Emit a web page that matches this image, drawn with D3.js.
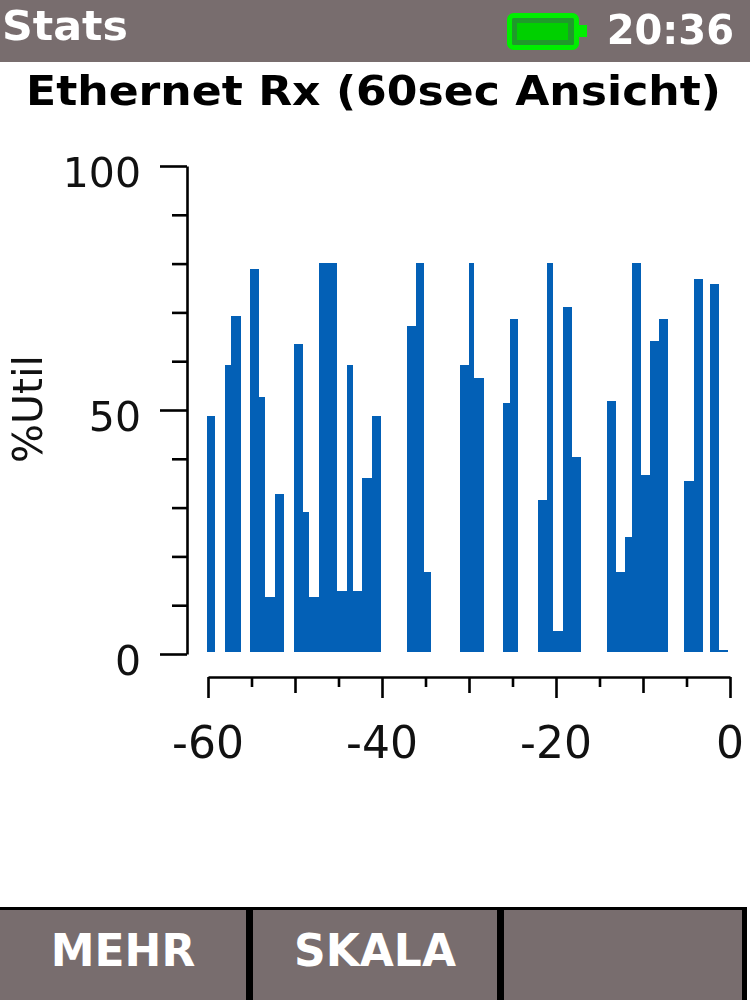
<!DOCTYPE html>
<html><head><meta charset="utf-8">
<script src="https://d3js.org/d3.v7.min.js"></script>
<style>html,body{margin:0;padding:0;background:#fff}svg{display:block;filter:blur(0.5px)}text{font-family:"DejaVu Sans"}</style>
</head><body><div id="c"></div>
<script>
const binStart=[-60.15,-58.05,-57.3,-55.2,-54.15,-53.4,-52.3,-50.1,-49.1,-48.4,-47.25,-46.2,-45.2,-44.05,-43.3,-42.25,-41.2,-37.15,-36.1,-35.15,-31.05,-30,-29.4,-26.05,-25.3,-22.1,-21,-20.4,-19.25,-18.2,-14.15,-13.1,-12.05,-11.3,-10.25,-9.2,-8.15,-5.25,-4.15,-2.35,-1.3];
const binEnd=[-59.2,-57.3,-56.25,-54.15,-53.4,-52.3,-51.25,-49.1,-48.4,-47.25,-46.2,-45.2,-44.05,-43.3,-42.25,-41.2,-40.15,-36.1,-35.15,-34.4,-30,-29.4,-28.3,-25.3,-24.35,-21,-20.4,-19.25,-18.2,-17.1,-13.1,-12.05,-11.3,-10.25,-9.2,-8.15,-7.1,-4.15,-3.05,-1.3,-0.25];
const util=[48.8,59.2,69.3,78.9,52.7,11.7,32.8,63.5,29,11.7,80.2,80.2,13,59.2,13,36,48.8,67.3,80.2,16.9,59.2,80.2,56.5,51.4,68.6,31.6,80.2,4.7,71.2,40.4,51.9,16.9,24,80.2,36.7,64.2,68.6,35.4,76.8,75.8,0.8];
const xTicks=[-60,-55,-50,-45,-40,-35,-30,-25,-20,-15,-10,-5,0];
const xLabels=[-60,-40,-20,0];
const yTicks=[0,10,20,30,40,50,60,70,80,90,100];
const yLabels=[0,50,100];
const title="Ethernet Rx (60sec Ansicht)";
const softkeys=["MEHR","SKALA",""];

const svg=d3.select("#c").append("svg").attr("width",750).attr("height",1000);
const x=d3.scaleLinear().domain([-60,0]).range([208,730]);
const y=d3.scaleLinear().domain([0,100]).range([654,166]);
const grey="#786d6e";
svg.append("rect").attr("width",750).attr("height",62).attr("fill",grey);
svg.append("text").attr("x",2).attr("y",40).attr("font-size",41).attr("font-weight","bold").attr("textLength",126).attr("lengthAdjust","spacingAndGlyphs").attr("fill","#fff").text("Stats");
svg.append("text").attr("x",734).attr("y",44).attr("text-anchor","end").attr("font-size",40).attr("font-weight","bold").attr("fill","#fff").text("20:36");
svg.append("rect").attr("x",509.5).attr("y",15.5).attr("width",67).attr("height",32).attr("rx",4).attr("fill","#1f9a2a").attr("stroke","#00ee00").attr("stroke-width",5);
svg.append("rect").attr("x",517).attr("y",23).attr("width",51).attr("height",17).attr("fill","#00d000");
svg.append("rect").attr("x",578).attr("y",25).attr("width",9).attr("height",12).attr("fill","#00ee00");
svg.append("text").attr("x",26).attr("y",105).attr("font-size",41).attr("font-weight","bold").attr("textLength",695).attr("lengthAdjust","spacingAndGlyphs").attr("fill","#000").text(title);

svg.append("g").attr("shape-rendering","crispEdges").selectAll("rect").data(util).join("rect")
 .attr("x",(d,i)=>x(binStart[i])).attr("width",(d,i)=>x(binEnd[i])-x(binStart[i]))
 .attr("y",d=>y(d)).attr("height",d=>y(0)-2-y(d)).attr("fill","#0360b6");

const yA=d3.axisLeft(y).tickValues(yTicks).tickSize(15).tickSizeOuter(0).tickFormat("");
const gy=svg.append("g").attr("transform","translate(187,0)").call(yA);
const xA=d3.axisBottom(x).tickValues(xTicks).tickSize(10).tickSizeOuter(0).tickFormat("");
const gx=svg.append("g").attr("transform","translate(0,677)").call(xA);
[gx,gy].forEach(g=>{g.selectAll("path,line").attr("stroke","#000").attr("stroke-width",2.6);});
gy.selectAll("line").filter(d=>d%50===0).attr("x2",-27);
gx.selectAll("line").filter(d=>d%10===0).attr("y2",16);
gx.selectAll("line").filter(d=>d%20===0).attr("y2",21);
svg.append("g").selectAll("text").data(yLabels).join("text").attr("x",141).attr("y",d=>y(d)+20.5).attr("text-anchor","end").attr("font-size",41).attr("fill","#111").text(d=>d);
svg.append("g").selectAll("text").data(xLabels).join("text").attr("x",d=>x(d)).attr("y",758).attr("text-anchor","middle").attr("font-size",44).attr("fill","#111").text(d=>d);
svg.append("text").attr("transform","translate(42,409) rotate(-90)").attr("text-anchor","middle").attr("font-size",41).attr("fill","#111").text("%Util");

svg.append("rect").attr("y",907).attr("width",747).attr("height",93).attr("fill","#000");
const kx=[0,253,504],kw=[246,244,238];
svg.append("g").selectAll("rect").data(softkeys).join("rect").attr("x",(d,i)=>kx[i]).attr("y",910).attr("width",(d,i)=>kw[i]).attr("height",90).attr("fill",grey);
svg.append("g").selectAll("text").data(softkeys).join("text").attr("x",(d,i)=>kx[i]+kw[i]/2).attr("y",966).attr("text-anchor","middle").attr("font-size",44).attr("font-weight","bold").attr("fill","#fff").text(d=>d);
</script></body></html>
